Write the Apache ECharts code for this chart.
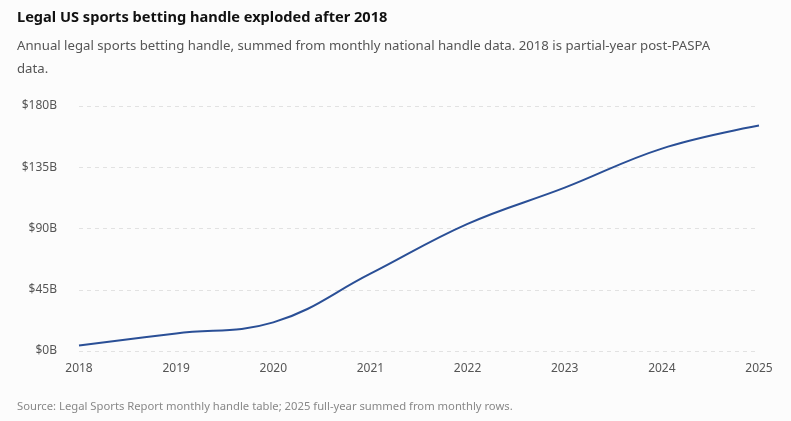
<!DOCTYPE html>
<html>
<head>
<meta charset="utf-8">
<script src="https://cdn.jsdelivr.net/npm/echarts@6/dist/echarts.min.js"></script>
<style>
  html, body { margin: 0; padding: 0; background: #fcfcfc; }
  #chart { width: 791px; height: 421px; }
</style>
</head>
<body>
<div id="chart"></div>
<script>
const years = ['2018', '2019', '2020', '2021', '2022', '2023', '2024', '2025']
// annual handle, $ billions
const handle = [4.0, 12.9, 21.0, 56.8, 93.4, 120.0, 148.7, 165.6]
const yTicks = [0, 45, 90, 135, 180]

const font = '"Noto Sans", "Open Sans", sans-serif'

const chart = echarts.init(document.getElementById('chart'), null, { renderer: 'canvas' })

chart.setOption({
  backgroundColor: '#fcfcfc',
  textStyle: { fontFamily: font },
  title: [{
    text: 'Legal US sports betting handle exploded after 2018',
    left: 12,
    top: 5,
    textStyle: { fontSize: 14.6, fontWeight: 'bold', color: '#111', fontFamily: font }
  }, {
    text: 'Annual legal sports betting handle, summed from monthly national handle data. 2018 is partial-year post-PASPA data.',
    left: 12,
    top: 29,
    textStyle: {
      fontSize: 13.2, fontWeight: 'normal', color: '#555', fontFamily: font,
      width: 710, overflow: 'break', lineHeight: 23.5
    }
  }, {
    text: 'Source: Legal Sports Report monthly handle table; 2025 full-year summed from monthly rows.',
    left: 12,
    top: 396,
    textStyle: { fontSize: 11.25, fontWeight: 'normal', color: '#888', fontFamily: font }
  }],
  grid: { left: 79, right: 32, top: 106, bottom: 70 },
  xAxis: {
    type: 'category',
    data: years,
    boundaryGap: false,
    axisLine: { show: false },
    axisTick: { show: false },
    axisLabel: { color: '#555', fontSize: 12, margin: 12 }
  },
  yAxis: {
    type: 'value',
    min: yTicks[0],
    max: yTicks[yTicks.length - 1],
    interval: 45,
    axisLine: { show: false },
    axisTick: { show: false },
    axisLabel: { color: '#555', fontSize: 12, margin: 22, formatter: v => '$' + v + 'B' },
    splitLine: { lineStyle: { color: '#e2e2e2', type: [4, 4], width: 1 } }
  },
  series: [{
    type: 'line',
    data: handle,
    smooth: 0.4,
    showSymbol: false,
    lineStyle: { color: '#2a4f96', width: 2 },
    animation: false
  }]
})
</script>
</body>
</html>
